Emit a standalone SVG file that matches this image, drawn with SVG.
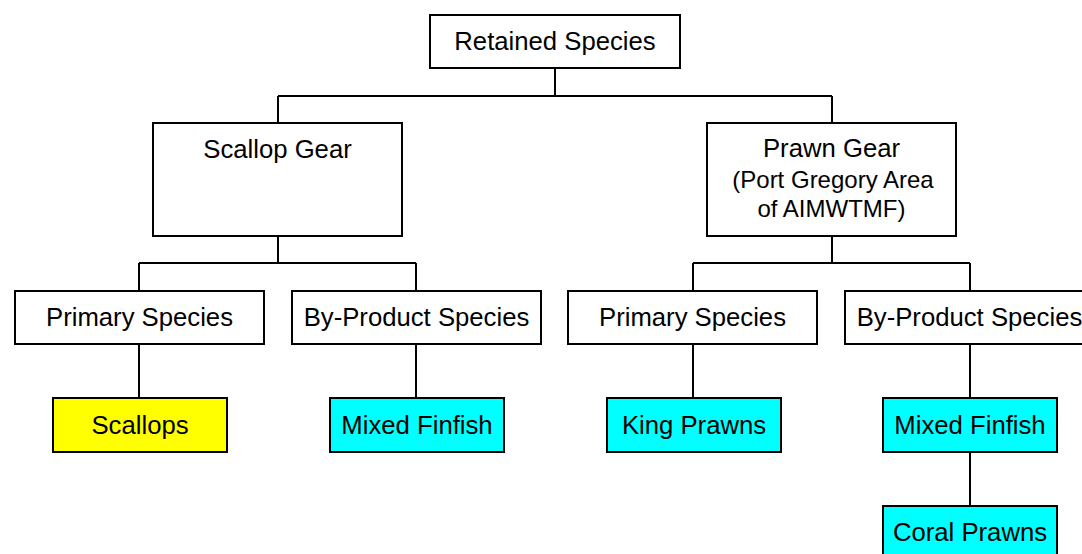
<svg xmlns="http://www.w3.org/2000/svg" width="1082" height="554" viewBox="0 0 1082 554">
<style>
.box{stroke:#000;stroke-width:2;fill:#fff}
.y{fill:#ffff00}
.c{fill:#00ffff}
.t{font-family:"Liberation Sans",Arial,sans-serif;font-size:25.7px;fill:#000;text-anchor:middle}
.s{font-size:24px}
.ln{stroke:#000;stroke-width:2;fill:none}
</style>
<rect width="1082" height="554" fill="#fff"/>
<g id="connectors" class="ln">
<path d="M555,68V96M278,96H832M278,96V123M832,96V123"/>
<path d="M278,236V263M139,263H416M139,263V291M416,263V291"/>
<path d="M832,236V263M693,263H970M693,263V291M970,263V291"/>
<path d="M139,344V398M416,344V398M693,344V398M970,344V398M970,452V506"/>
</g>
<g id="retained"><rect class="box" x="430" y="15" width="250" height="53"/><text class="t" x="555" y="50">Retained Species</text></g>
<g id="scallop-gear"><rect class="box" x="153" y="123" width="249" height="113"/><text class="t" x="277.5" y="158">Scallop Gear</text></g>
<g id="prawn-gear"><rect class="box" x="707" y="123" width="249" height="113"/><text class="t" x="831.5" y="157">Prawn Gear</text><text class="t s" x="833" y="188">(Port Gregory Area</text><text class="t s" x="831.5" y="217">of AIMWTMF)</text></g>
<g id="primary-1"><rect class="box" x="15" y="291" width="249" height="53"/><text class="t" x="139.5" y="326">Primary Species</text></g>
<g id="byproduct-1"><rect class="box" x="292" y="291" width="249" height="53"/><text class="t" x="416.5" y="326">By-Product Species</text></g>
<g id="primary-2"><rect class="box" x="568" y="291" width="249" height="53"/><text class="t" x="692.5" y="326">Primary Species</text></g>
<g id="byproduct-2"><rect class="box" x="845" y="291" width="249" height="53"/><text class="t" x="969.5" y="326">By-Product Species</text></g>
<g id="scallops"><rect class="box y" x="53" y="398" width="174" height="54"/><text class="t" x="140" y="434">Scallops</text></g>
<g id="finfish-1"><rect class="box c" x="330" y="398" width="174" height="54"/><text class="t" x="417" y="434">Mixed Finfish</text></g>
<g id="king-prawns"><rect class="box c" x="607" y="398" width="174" height="54"/><text class="t" x="694" y="434">King Prawns</text></g>
<g id="finfish-2"><rect class="box c" x="883" y="398" width="174" height="54"/><text class="t" x="970" y="434">Mixed Finfish</text></g>
<g id="coral-prawns"><rect class="box c" x="883" y="506" width="174" height="54"/><text class="t" x="970" y="541">Coral Prawns</text></g>
</svg>
